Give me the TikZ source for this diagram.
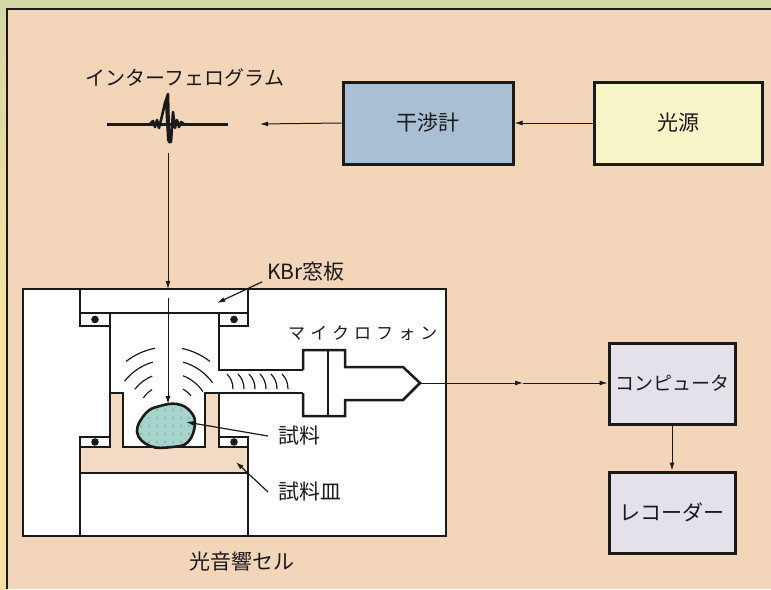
\documentclass[tikz,border=0pt]{standalone}
\usepackage{fontspec}
\setmainfont{Noto Sans CJK JP}
\usetikzlibrary{arrows.meta}

\definecolor{frameG}{HTML}{D5D8A6}
\definecolor{frameY}{HTML}{F5E2A0}
\definecolor{panel}{HTML}{F3D5BA}
\definecolor{interf}{HTML}{A9BFD3}
\definecolor{lamp}{HTML}{F8F5C8}
\definecolor{device}{HTML}{E4E1EA}
\definecolor{samplefill}{HTML}{A6D3CC}
\definecolor{sampledot}{HTML}{6E9F9A}
\definecolor{dish}{HTML}{F3DAC4}
\definecolor{ink}{HTML}{1A1A1A}

\tikzset{
  blockbox/.style={draw=ink, line width=3pt, inner sep=0pt, text=ink,
                   font=\fontsize{21}{21}\selectfont},
  link/.style={draw=ink, line width=1pt, -{Latex[length=8pt,width=5pt]}},
  pointer/.style={draw=ink, line width=1.2pt, -{Latex[length=8pt,width=5pt]}},
  part/.style={draw=ink, line width=2.5pt, line join=miter},
  soundwave/.style={draw=ink, line width=1.2pt},
  lbl/.style={inner sep=0pt, text=ink, font=\fontsize{21}{21}\selectfont},
}

\begin{document}
\begin{tikzpicture}[x=1pt, y=-1pt]
\useasboundingbox (0,0) rectangle (771,589);

% outer frame and panel
\fill[frameG] (0,0) rectangle (771,589);
\shade[top color=frameG, bottom color=frameY, middle color=frameY] (0,9) rectangle (7,589);
\fill[panel] (7,9) rectangle (771,589);
\draw[ink, line width=2.8pt] (7,589) -- (7,9) -- (771,9);

% top row: source, interferometer, interferogram
\node[blockbox, fill=lamp, minimum width=168pt, minimum height=82pt] (src) at (678,123) {光源};
\node[blockbox, fill=interf, minimum width=170pt, minimum height=82pt] (ifm) at (428,123) {干渉計};
\node[lbl, font=\fontsize{20}{20}\selectfont] (igram) at (185,78) {インターフェログラム};

\coordinate (waveR) at (260,124);
\coordinate (waveB) at (168,153);
\draw[ink, line width=3pt] (107,124) -- (228,124);
\draw[ink, line width=2.6pt, line join=round]
  (150,124) -- (153,121) -- (155,127) -- (157,120) -- (159,128) -- (162,116)
  -- (165,103) -- (168,94) -- (169,142) -- (171,142) -- (173,112) -- (175,128)
  -- (177,120) -- (179,127) -- (181,122) -- (184,124);
\fill[ink] (165,104) -- (168,94) -- (170,141) -- (167,141) -- cycle;

\draw[link] (src.west) -- (ifm.east);
\draw[link] (ifm.west) -- (waveR);

% photoacoustic cell
\coordinate (cellin) at (168,289);
\draw[link] (waveB) -- (cellin);
\draw[part, fill=white] (23,289) rectangle (446,536);

% sample dish (filled region)
\fill[dish] (110,393) -- (123,393) -- (123,447) -- (205,447) -- (205,393) -- (219,393)
  -- (219,447) -- (248,447) -- (248,473) -- (80,473) -- (80,447) -- (110,447) -- cycle;

% window and O-rings
\draw[part] (80,289) rectangle (248,313);
\draw[part] (80,313) rectangle (110,326);
\draw[part] (219,313) rectangle (248,326);
\draw[part] (80,437) rectangle (110,447);
\draw[part] (219,437) rectangle (248,447);
\foreach \ox/\oy in {95/319.5, 234/319.5, 95/442, 234/442}
  \fill[ink] (\ox,\oy) circle[radius=3.8];

% chamber walls, dish and base
\draw[part] (110,326) -- (110,437);
\draw[part] (219,326) -- (219,370) -- (303,370);
\draw[part] (219,437) -- (219,393) -- (205,393) -- (205,447) -- (123,447) -- (123,393) -- (110,393);
\draw[part] (219,393) -- (303,393);
\draw[part] (80,447) -- (80,536);
\draw[part] (248,447) -- (248,536);
\draw[part] (80,473) -- (248,473);

% microphone
\draw[part, fill=white] (303,370) -- (303,350) -- (345,350) -- (345,367) -- (403,367)
  -- (420,383) -- (403,400) -- (345,400) -- (345,416) -- (303,416) -- (303,393);
\draw[part] (328,350) -- (328,416);
\coordinate (mictip) at (420,383);

% sample
\begin{scope}
  \clip plot[smooth cycle, tension=0.7] coordinates {(137,432) (146,413) (160,406) (177,404)
    (190,411) (195,424) (188,442) (172,447) (150,446)};
  \fill[samplefill] (130,400) rectangle (200,450);
  \foreach \dx in {141,149,...,197}
    \foreach \dy in {410,418,...,446}
      \fill[sampledot] (\dx,\dy) circle[radius=0.8];
\end{scope}
\draw[ink, line width=2.6pt] plot[smooth cycle, tension=0.7] coordinates {(137,432) (146,413)
  (160,406) (177,404) (190,411) (195,424) (188,442) (172,447) (150,446)};

% beam into the cell
\coordinate (beamA) at (168,298);
\coordinate (beamB) at (168,404);
\draw[link] (beamA) -- (beamB);

% acoustic waves
\foreach \r/\a/\b/\c/\d in {68/101/128/52/78, 55/106/142/36/74, 42/112/142/34/69, 30/122/145/40/60} {
  \draw[soundwave] ([shift={(-\a:\r)}]168,415) arc[start angle=-\a, end angle=-\b, radius=\r];
  \draw[soundwave] ([shift={(-\c:\r)}]168,415) arc[start angle=-\c, end angle=-\d, radius=\r];
}
\foreach \wx in {227,238,249,260,271,282}
  \draw[soundwave] (\wx,374) .. controls (\wx+4,378) and (\wx+6,383) .. (\wx+6,389);

% labels and pointers
\node[lbl, anchor=west, inner xsep=5pt] (kbr) at (262,272) {KBr窓板};
\coordinate (kbrtip) at (217,303);
\draw[pointer] (kbr.south west) -- (kbrtip);

\node[lbl, anchor=west, font=\fontsize{17}{17}\selectfont\addfontfeature{LetterSpace=30}] (mic) at (288,333) {マイクロフォン};

\node[lbl, anchor=west, inner xsep=10pt] (samplbl) at (268,436) {試料};
\coordinate (samptip) at (186,422);
\draw[pointer] (samplbl.west) -- (samptip);

\node[lbl, anchor=west, inner xsep=10pt] (dishlbl) at (268,492) {試料皿};
\coordinate (dishtip) at (236,462);
\draw[pointer] (dishlbl.west) -- (dishtip);

\node[lbl] (cell) at (242,562) {光音響セル};

% data acquisition
\node[blockbox, fill=device, minimum width=126pt, minimum height=81pt,
      font=\fontsize{19}{19}\selectfont] (comp) at (672,383.5) {コンピュータ};
\node[blockbox, fill=device, minimum width=126pt, minimum height=81pt] (rec) at (672,512.5) {レコーダー};
\coordinate (midarrow) at (523,383);
\draw[link] (mictip) -- (midarrow);
\draw[link] (midarrow) -- (comp.west |- mictip);
\draw[link] (comp.south) -- (rec.north);

\end{tikzpicture}
\end{document}
